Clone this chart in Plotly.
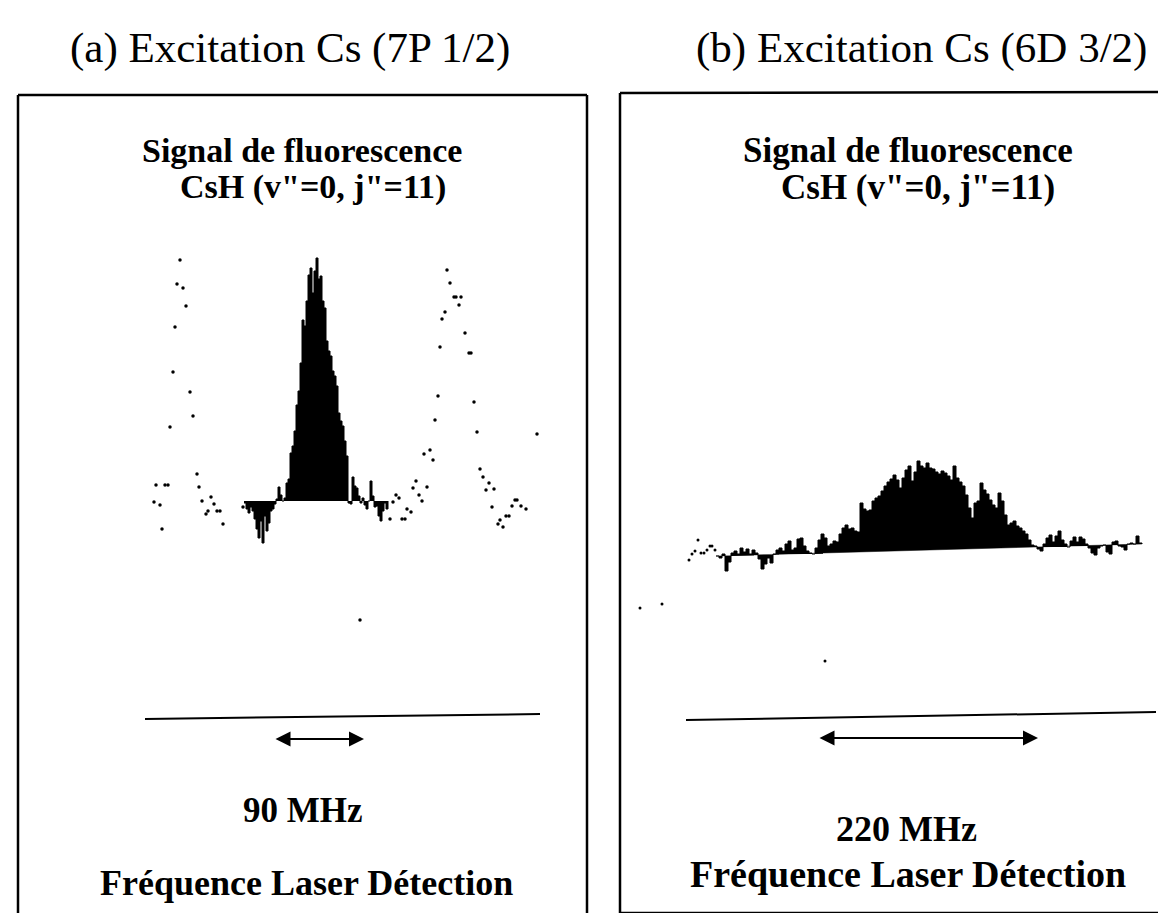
import plotly.graph_objects as go

# ---------------- data ----------------
# Panel (a): fluorescence signal vs detection laser detuning (MHz, 0 = line centre)
freq_a = list(range(-71, 74, 2))
signal_a = [-2, -8, -12, -6, -10, -18, -28, -37, -20, -42,
            -15, -30, -22, -10, -8, -3, 2, 14, 6, 0,
            3, 18, 22, 48, 55, 70, 96, 110, 138, 181,
            175, 200, 226, 233, 208, 230, 243, 222, 225, 200,
            193, 160, 150, 145, 130, 125, 115, 88, 80, 75,
            60, 45, -2, -3, 24, 15, 13, 5, -2, 3,
            -4, -8, 0, 20, 5, -6, -5, -15, -20, -10,
            -2, -8, 0]

# Panel (a): Fabry-Perot calibration dots
fp_a_x = [-161, -159, -155, -153, -150, -147, -145, -142, -140, -138, -135, -132, -129,
          -125, -122, -118, -116, -113, -109, -107, -104, -101, -98, -95, -92, -72,
          75, 78, 81, 84, 87, 90, 92, 96, 98, 101, 104, 107, 109, 112, 115, 118, 120,
          123, 125, 127, 130, 132, 135, 139, 141, 144, 146, 150, 154, 156, 159, 162,
          165, 168, 171, 174, 177, 179, 183, 185, 188, 191, 194, 197, 200, 202, 206,
          211, 222, 45]
fp_a_y = [-1, 16, -4, -28, 16, 16, 74, 129, 174, 217, 241, 213, 195,
          109, 85, 27, 14, 0, -13, -10, 4, -3, -10, -10, -23, -6,
          -18, -1, 6, 3, -18, -18, -8, -11, 13, 20, 6, 0, 47, 14, 51, 41, 81,
          105, 154, 182, 189, 231, 218, 204, 204, 196, 204, 168, 148, 148, 99, 69,
          32, 24, 11, 18, -6, 12, -23, -19, -26, -15, -15, -5, 1, 1, -5,
          -8, 67, -119]

# Panel (b): fluorescence signal vs detection laser detuning (MHz)
freq_b = list(range(-200, 227, 3))
signal_b = [0, -2, 2, -15, -6, 3, 5, 2, 8, 4,
            7, 2, 6, 3, -3, -13, -8, -2, -7, 2,
            6, 8, 5, 12, 15, 6, 8, 17, 18, 10,
            5, 3, 2, 8, 16, 22, 18, 10, 12, 15,
            14, 22, 28, 31, 27, 28, 25, 24, 53, 47,
            45, 46, 55, 58, 60, 65, 70, 74, 77, 81,
            76, 68, 78, 86, 90, 75, 84, 95, 90, 88,
            93, 88, 87, 84, 82, 85, 83, 80, 76, 90,
            78, 74, 70, 61, 48, 38, 53, 55, 73, 66,
            62, 56, 51, 48, 63, 55, 41, 31, 33, 35,
            30, 28, 25, 22, 16, 11, 10, 7, 5, 12,
            18, 21, 14, 20, 25, 16, 12, 9, 15, 19,
            14, 19, 17, 12, 8, 3, 1, 8, 10, 11,
            4, 2, 14, 15, 10, 9, 6, 12, 13, 12,
            20, 13, 12]
baseline_b_x = [-200, 226]
baseline_b_y = [0, 12]

# Panel (b): calibration / stray dots
fp_b_x = [-227, -224, -221, -218, -215, -212, -209, -206, -204, -201, -276, -254, -91]
fp_b_y = [-4, 2, 5, 16, 3, 3, 6, 10, 10, 6, -52, -48, -105]

# Frequency-scale arrows (MHz)
scale_a = [-41, 49]      # 90 MHz
scale_b = [-98, 122]     # 220 MHz
rule_a_x = [-170, 225]
rule_a_y = [-218, -213]
rule_b_x = [-230, 240]
rule_b_y = [-164, -156]

titles = ["(a) Excitation Cs (7P 1/2)", "(b) Excitation Cs (6D 3/2)"]
signal_label = "Signal de fluorescence"
species_label = 'CsH (v"=0, j"=11)'
scale_labels = ["90 MHz", "220 MHz"]
axis_label = "Fréquence Laser Détection"

# ---------------- figure ----------------
W, H = 1166, 913
FONT = "Liberation Serif"
INK = "black"

def px(x):
    return x / W

def py(y):
    return 1 - y / H

fig = go.Figure()

# panel (a)
fig.add_trace(go.Scatter(x=freq_a, y=signal_a, mode="lines", line=dict(color=INK, width=1, shape="hv"),
                         fill="tozeroy", fillcolor=INK, xaxis="x", yaxis="y", showlegend=False, hoverinfo="skip"))
fig.add_trace(go.Scatter(x=fp_a_x, y=fp_a_y, mode="markers", marker=dict(color=INK, size=3.5),
                         xaxis="x", yaxis="y", showlegend=False, hoverinfo="skip"))

# panel (b)
fig.add_trace(go.Scatter(x=baseline_b_x, y=baseline_b_y, mode="lines", line=dict(color=INK, width=0.5),
                         xaxis="x2", yaxis="y2", showlegend=False, hoverinfo="skip"))
fig.add_trace(go.Scatter(x=freq_b, y=signal_b, mode="lines", line=dict(color=INK, width=1, shape="hv"),
                         fill="tonexty", fillcolor=INK, xaxis="x2", yaxis="y2", showlegend=False,
                         hoverinfo="skip"))
fig.add_trace(go.Scatter(x=fp_b_x, y=fp_b_y, mode="markers", marker=dict(color=INK, size=3),
                         xaxis="x2", yaxis="y2", showlegend=False, hoverinfo="skip"))

hidden = dict(visible=False, showgrid=False, zeroline=False)
fig.update_layout(
    width=W, height=H,
    margin=dict(l=0, r=0, t=0, b=0),
    paper_bgcolor="white", plot_bgcolor="white",
    xaxis=dict(domain=[px(9), px(581)], range=[9 - 307, 581 - 307], **hidden),
    yaxis=dict(domain=[0, py(86)], range=[493 - 913, 493 - 86], **hidden),
    xaxis2=dict(domain=[px(612), 1], range=[612 - 908, 1166 - 908], **hidden),
    yaxis2=dict(domain=[py(905), py(84)], range=[548 - 905, 548 - 84], **hidden),
    font=dict(family=FONT, color=INK),
)

# frames
frame = dict(color=INK, width=2.5)
shapes = [
    dict(type="line", xref="paper", yref="paper", x0=px(10), x1=px(10), y0=0, y1=py(87), line=frame),
    dict(type="line", xref="paper", yref="paper", x0=px(10), x1=px(579), y0=py(87), y1=py(87), line=frame),
    dict(type="line", xref="paper", yref="paper", x0=px(579), x1=px(579), y0=0, y1=py(87), line=frame),
    dict(type="line", xref="paper", yref="paper", x0=px(612), x1=px(612), y0=py(905), y1=py(85), line=frame),
    dict(type="line", xref="paper", yref="paper", x0=px(612), x1=1, y0=py(85), y1=py(84), line=frame),
    dict(type="line", xref="paper", yref="paper", x0=px(612), x1=1, y0=py(905), y1=py(905), line=frame),
    dict(type="line", xref="x", yref="y", x0=rule_a_x[0], x1=rule_a_x[1], y0=rule_a_y[0], y1=rule_a_y[1],
         line=dict(color=INK, width=2)),
    dict(type="line", xref="x2", yref="y2", x0=rule_b_x[0], x1=rule_b_x[1], y0=rule_b_y[0], y1=rule_b_y[1],
         line=dict(color=INK, width=2)),
]
fig.update_layout(shapes=shapes)

ann = []
# double arrows for the frequency scale
for (xr, yr, sc, yv) in [("x", "y", scale_a, -238), ("x2", "y2", scale_b, -182)]:
    ann.append(dict(xref=xr, yref=yr, axref=xr, ayref=yr, x=sc[1], y=yv, ax=sc[0], ay=yv,
                    showarrow=True, arrowhead=2, arrowside="end+start", arrowsize=1.5,
                    arrowwidth=2, arrowcolor=INK, text=""))

def label(text, x, y, size, bold=False):
    t = f"<b>{text}</b>" if bold else text
    ann.append(dict(xref="paper", yref="paper", x=px(x), y=py(y), xanchor="center", yanchor="middle",
                    text=t, showarrow=False, font=dict(family=FONT, size=size, color=INK)))

label(titles[0], 282, 40, 43)
label(titles[1], 913, 40, 43)
label(signal_label, 294, 142, 34, True)
label(species_label, 305, 179, 34, True)
label(signal_label, 900, 142, 35, True)
label(species_label, 910, 180, 35, True)
label(scale_labels[0], 295, 802, 35, True)
label(scale_labels[1], 898, 821, 36, True)
label(axis_label, 298, 875, 36, True)
label(axis_label, 900, 866, 38, True)

fig.update_layout(annotations=ann)

fig.write_html("out.html")
